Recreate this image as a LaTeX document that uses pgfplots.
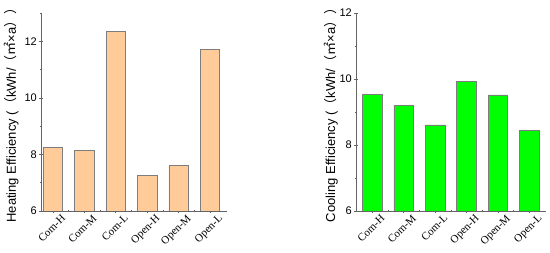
\documentclass[border=0pt]{standalone}
\usepackage{fontspec}
\setmainfont{Liberation Serif}
\newfontfamily\arial{Liberation Sans}
\newfontfamily\cjk{Noto Sans CJK SC}
\usepackage{pgfplots}
\pgfplotsset{compat=1.18}

\definecolor{peach}{RGB}{255,204,153}
\definecolor{lime}{RGB}{0,255,0}
\definecolor{edge}{RGB}{125,125,125}
\definecolor{axisgray}{RGB}{100,100,100}

\pgfplotsset{
  effplot/.style={
    scale only axis, width=186pt, height=198pt,
    anchor=south west,
    axis lines*=left,
    axis line style={axisgray, line width=0.7pt},
    ybar, bar width=19.5pt,
    xtick={1,...,6},
    xticklabels={Com-H,Com-M,Com-L,Open-H,Open-M,Open-L},
    minor x tick num=1,
    minor y tick num=1,
    ytick distance=2,
    tick align=center,
    major tick length=4pt, minor tick length=2.5pt,
    every tick/.style={axisgray, line width=0.6pt},
    x tick label style={font=\fontsize{11}{12}\selectfont, rotate=45, anchor=north east, inner sep=0pt, xshift=5pt, yshift=-6pt},
    y tick label style={font=\arial\fontsize{11}{12}\selectfont, inner sep=1pt, xshift=-1pt},
    /pgf/number format/assume math mode=true,
    ylabel style={font=\arial\fontsize{13}{14}\selectfont, anchor=center},
  },
}

\begin{document}
\begin{tikzpicture}
\useasboundingbox (0,0) rectangle (550pt,253pt);

\begin{axis}[effplot,
    at={(41pt,42pt)},
    xmin=0.62, xmax=6.54, ymin=6, ymax=13,
    ylabel style={at={(axis description cs:-0.158,0.5)}},
    ylabel={Heating Efficiency (\cjk（\arial kWh/\cjk（㎡\arial ×a\cjk））},
]
\addplot[draw=edge, fill=peach, line width=0.6pt] coordinates {
(1,8.25) (2,8.15) (3,12.36) (4,7.25) (5,7.62) (6,11.71)};
\end{axis}

\begin{axis}[effplot,
    at={(356pt,42pt)}, width=190pt,
    xmin=0.48, xmax=6.53, ymin=6, ymax=12,
    ylabel style={at={(axis description cs:-0.132,0.5)}},
    ylabel={Cooling Efficiency (\cjk（\arial kWh/\cjk（㎡\arial ×a\cjk））},
]
\addplot[draw=edge, fill=lime, line width=0.6pt] coordinates {
(1,9.53) (2,9.19) (3,8.61) (4,9.93) (5,9.52) (6,8.44)};
\end{axis}
\end{tikzpicture}
\end{document}
